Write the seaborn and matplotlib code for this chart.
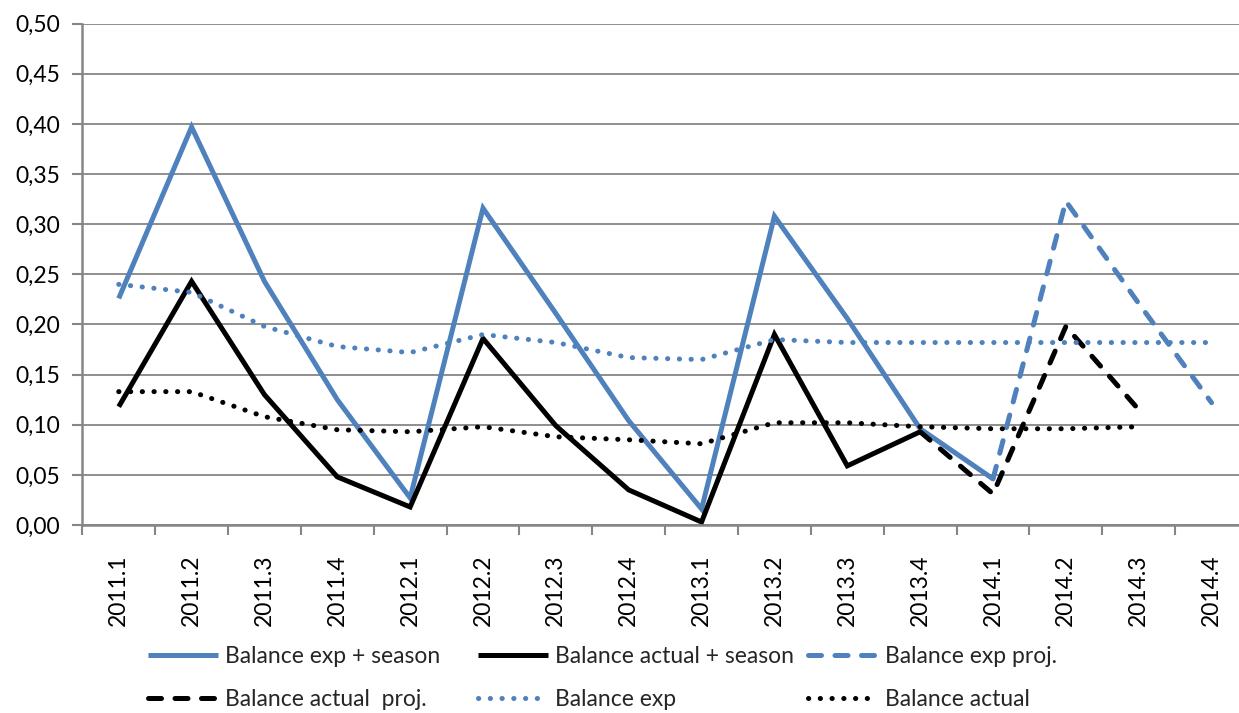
import numpy as np
import pandas as pd
import matplotlib
matplotlib.use("Agg")
import matplotlib.pyplot as plt
from matplotlib.ticker import FuncFormatter, FixedLocator
import seaborn as sns

# ---------------- data ----------------
quarters = ["2011.1", "2011.2", "2011.3", "2011.4",
            "2012.1", "2012.2", "2012.3", "2012.4",
            "2013.1", "2013.2", "2013.3", "2013.4",
            "2014.1", "2014.2", "2014.3", "2014.4"]
nan = np.nan
exp_season = [0.226, 0.397, 0.243, 0.125, 0.027, 0.316, 0.211, 0.104,
              0.016, 0.308, 0.206, 0.096, 0.046, nan, nan, nan]
actual_season = [0.118, 0.243, 0.130, 0.048, 0.018, 0.186, 0.099, 0.035,
                 0.003, 0.190, 0.059, 0.093, nan, nan, nan, nan]
exp_proj = [nan, nan, nan, nan, nan, nan, nan, nan,
            nan, nan, nan, nan, 0.046, 0.323, 0.221, 0.122]
actual_proj = [nan, nan, nan, nan, nan, nan, nan, nan,
               nan, nan, nan, 0.093, 0.031, 0.198, 0.115, nan]
exp_base = [0.240, 0.232, 0.198, 0.178, 0.172, 0.190, 0.182, 0.167,
            0.165, 0.185, 0.182, 0.182, 0.182, 0.182, 0.182, 0.182]
actual_base = [0.133, 0.133, 0.108, 0.095, 0.093, 0.098, 0.088, 0.085,
               0.081, 0.102, 0.102, 0.098, 0.096, 0.096, 0.098, nan]

series_labels = ["Balance exp + season", "Balance actual + season",
                 "Balance exp proj.", "Balance actual  proj.",
                 "Balance exp", "Balance actual"]
y_ticks = [0.00, 0.05, 0.10, 0.15, 0.20, 0.25, 0.30, 0.35, 0.40, 0.45, 0.50]

# ---------------- styling ----------------
sns.set_theme(style="white")
plt.rcParams["font.family"] = ["Lato", "DejaVu Sans"]
FS = 16.5

BLUE = "#4F81BD"
BLACK = "#000000"
GRID = "#868686"

df = pd.DataFrame({
    "pos": np.arange(len(quarters)),
    "quarter": quarters,
    series_labels[0]: exp_season,
    series_labels[1]: actual_season,
    series_labels[2]: exp_proj,
    series_labels[3]: actual_proj,
    series_labels[4]: exp_base,
    series_labels[5]: actual_base,
})

W, H = 1239, 713
fig = plt.figure(figsize=(W / 100, H / 100), dpi=100)
ax = fig.add_axes([82.3 / W, 1 - 525 / H, (1248 - 82.3) / W, (525 - 23.7) / H])

LW = 3.6
styles = [
    dict(color=BLUE, ls="-"),
    dict(color=BLACK, ls="-"),
    dict(color=BLUE, ls=(0, (2.6, 2.7))),
    dict(color=BLACK, ls=(0, (2.6, 2.7))),
    dict(color=BLUE, ls=(0, (0.05, 2.3))),
    dict(color=BLACK, ls=(0, (0.05, 2.3))),
]
for lab, st in zip(series_labels, styles):
    sns.lineplot(data=df, x="pos", y=lab, ax=ax, color=st["color"],
                 linewidth=LW, label=lab, sort=False)
    line = ax.lines[-1]
    line.set_linestyle(st["ls"])
    line.set_dash_capstyle("round")
    line.set_solid_capstyle("butt")
    line.set_solid_joinstyle("miter")

handles, labels = ax.get_legend_handles_labels()
if ax.get_legend() is not None:
    ax.get_legend().remove()

# axes
ax.set_xlim(-0.5, len(quarters) - 0.5)
ax.set_ylim(0, 0.5)
ax.set_xlabel("")
ax.set_ylabel("")
ax.set_yticks(y_ticks)
ax.yaxis.set_major_formatter(FuncFormatter(lambda v, p: f"{v:.2f}".replace(".", ",")))
ax.set_xticks(np.arange(len(quarters)))
ax.set_xticklabels(quarters, rotation=90)
ax.xaxis.set_minor_locator(FixedLocator(np.arange(len(quarters) + 1) - 0.5))
ax.tick_params(axis="x", which="major", length=0, pad=21, labelsize=FS, colors="black")
ax.tick_params(axis="x", which="minor", length=7, width=1.5, color=GRID, bottom=True)
ax.tick_params(axis="y", which="major", length=7, width=1.5, color=GRID,
               left=True, pad=9, labelsize=FS, labelcolor="black")
for lbl in ax.get_xticklabels():
    lbl.set_va("top")

ax.grid(axis="y", color=GRID, linewidth=1.3)
ax.grid(axis="x", visible=False)
ax.set_axisbelow(True)
for s in ["top", "right"]:
    ax.spines[s].set_visible(False)
for s in ["left", "bottom"]:
    ax.spines[s].set_color(GRID)
    ax.spines[s].set_linewidth(1.8)

# legend: three columns, two rows (row-major order)
col_x = [148, 478, 808]
for c in range(3):
    hs = [handles[c], handles[c + 3]]
    ls_ = [labels[c], labels[c + 3]]
    fig.legend(hs, ls_, loc="upper left",
               bbox_to_anchor=(col_x[c] / W, 1 - 646 / H),
               bbox_transform=fig.transFigure,
               frameon=False, fontsize=FS, handlelength=3.05,
               handletextpad=0.3, labelspacing=0.95,
               borderpad=0, borderaxespad=0)

fig.savefig("out.png", dpi=100)
